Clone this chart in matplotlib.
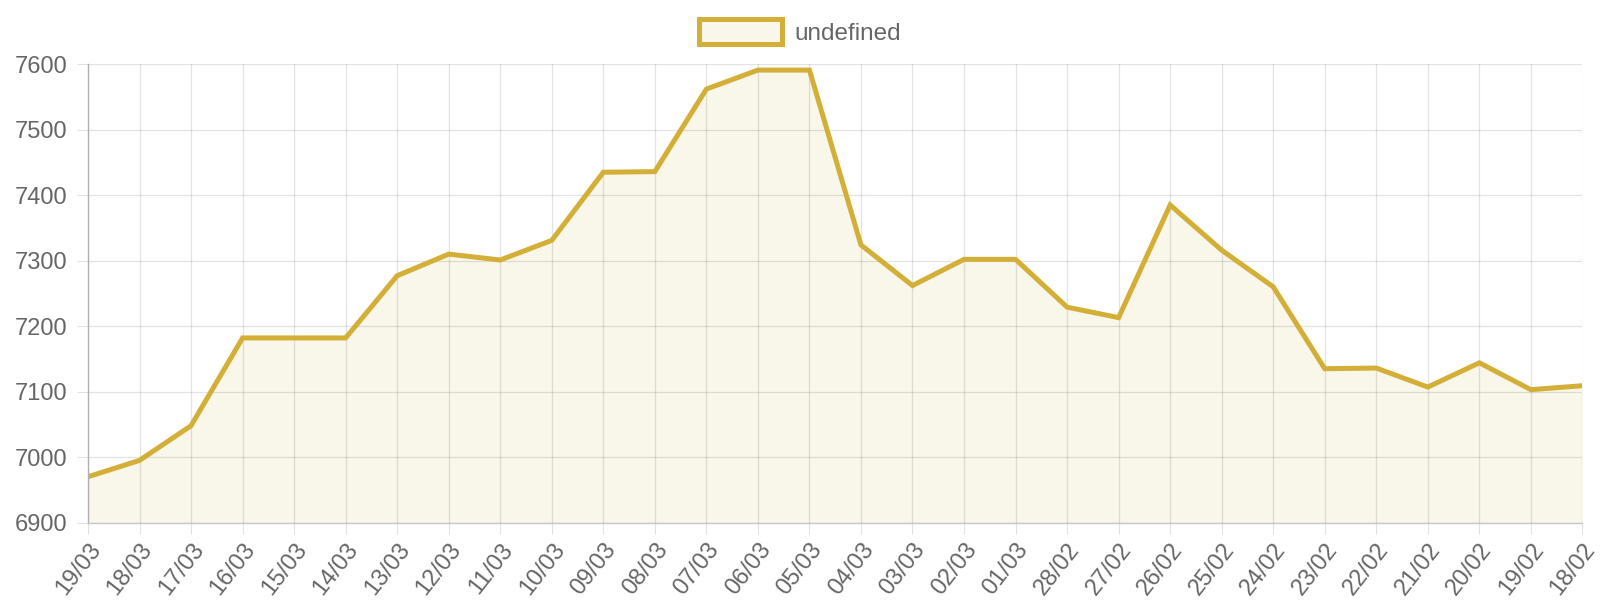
import matplotlib
matplotlib.use("Agg")
import matplotlib.pyplot as plt
from matplotlib.patches import Patch

plt.rcParams['font.family'] = ['Liberation Sans', 'DejaVu Sans']

labels = ["19/03", "18/03", "17/03", "16/03", "15/03", "14/03", "13/03", "12/03",
          "11/03", "10/03", "09/03", "08/03", "07/03", "06/03", "05/03", "04/03",
          "03/03", "02/03", "01/03", "28/02", "27/02", "26/02", "25/02", "24/02",
          "23/02", "22/02", "21/02", "20/02", "19/02", "18/02"]
values = [6970, 6995, 7048, 7182, 7182, 7182, 7277, 7310, 7301, 7331,
          7435, 7436, 7562, 7591, 7591, 7324, 7262, 7302, 7302, 7229,
          7213, 7385, 7316, 7260, 7135, 7136, 7107, 7144, 7103, 7109]
series_name = "undefined"
y_ticks = [6900, 7000, 7100, 7200, 7300, 7400, 7500, 7600]

line_color = "#D4AF37"
fill_color = "#F9F6EA"
grid_color = "#E1E1E1"
text_color = "#666666"

fig = plt.figure(figsize=(16, 6), dpi=100)
ax = fig.add_axes([0.055, 0.129, 0.934, 0.764])

x = list(range(len(labels)))
ax.fill_between(x, values, y_ticks[0], color=fill_color, linewidth=0, zorder=1)
ax.plot(x, values, color=line_color, linewidth=3.6, solid_joinstyle='miter', zorder=3)

ax.set_xlim(0, len(labels) - 1)
ax.set_ylim(y_ticks[0], y_ticks[-1])
ax.set_xticks(x)
ax.set_xticklabels(labels, rotation=52, ha='right', rotation_mode='anchor')
ax.set_yticks(y_ticks)

ax.grid(True, color="#000000", alpha=0.11, linewidth=0.9, zorder=2)
ax.set_axisbelow(False)
for s in ['top', 'right']:
    ax.spines[s].set_visible(False)
ax.spines['left'].set_color("#B0B0B0")
ax.spines['bottom'].set_color("#C8C8C8")
ax.spines['left'].set_linewidth(1.0)
ax.spines['bottom'].set_linewidth(1.0)
ax.spines['left'].set_zorder(4)
ax.spines['bottom'].set_zorder(4)

ax.tick_params(axis='both', colors=grid_color, labelcolor=text_color,
               labelsize=17, length=8, width=0.8)
ax.tick_params(axis='y', pad=7)
ax.tick_params(axis='x', pad=4)

handle = Patch(facecolor=fill_color, edgecolor=line_color, linewidth=3.6)
fig.legend([handle], [series_name], loc='upper center', bbox_to_anchor=(0.5, 1.005),
           frameon=False, fontsize=17.5, labelcolor=text_color,
           handlelength=3.4, handleheight=1.2, handletextpad=0.5)

fig.savefig("out.png", dpi=100, facecolor="white")
